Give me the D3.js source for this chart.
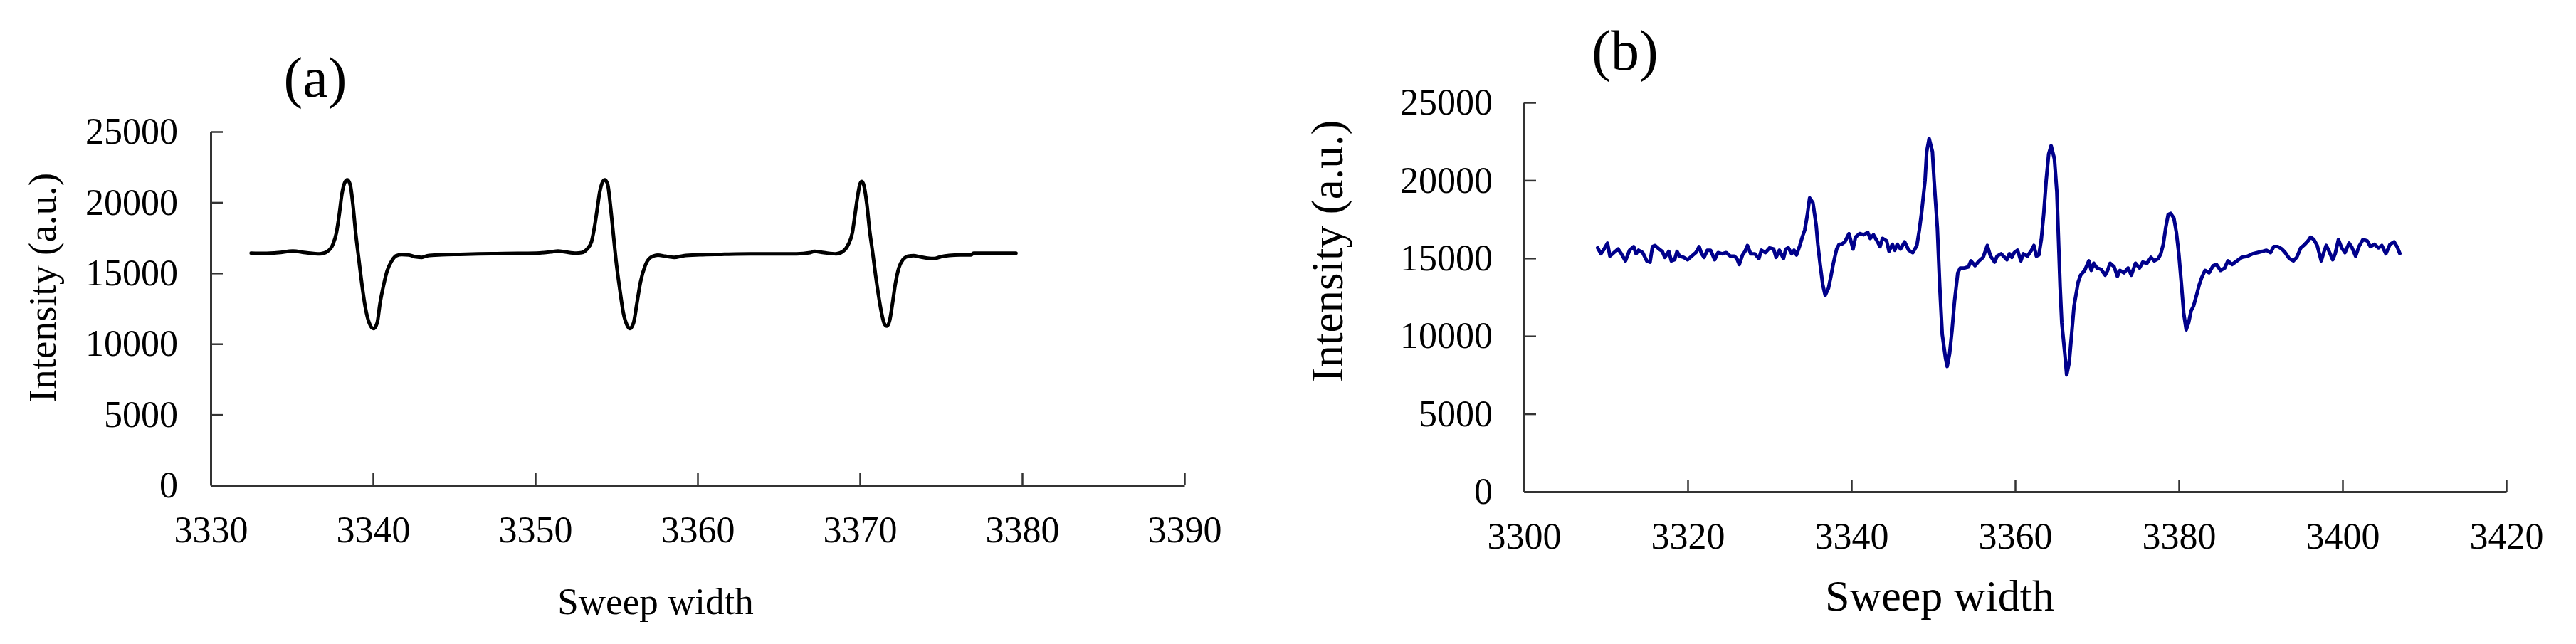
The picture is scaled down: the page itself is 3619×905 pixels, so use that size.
<!DOCTYPE html>
<html>
<head>
<meta charset="utf-8">
<script src="https://cdn.jsdelivr.net/npm/d3@7"></script>
<style>
  body { margin: 0; background: #fff; }
  svg { display: block; }
  text { font-family: "Liberation Serif", "Times New Roman", serif; fill: #000; }
</style>
</head>
<body>
<svg id="chart" width="3619" height="905"></svg>
<script>
// tick labels
const intensityTicks = [0, 5000, 10000, 15000, 20000, 25000];
const sweepTicksA = [3330, 3340, 3350, 3360, 3370, 3380, 3390];
const sweepTicksB = [3300, 3320, 3340, 3360, 3380, 3400, 3420];

// panel (a): simulated spectrum, three lines
const sweepA = [
  3332.49, 3333.27, 3334.17, 3335.06, 3335.85, 3336.74, 3337.19, 3337.53, 3337.75, 3337.93,
  3338.08, 3338.26, 3338.42, 3338.60, 3338.76, 3338.93, 3339.14, 3339.32, 3339.54, 3339.76,
  3340.03, 3340.26, 3340.43, 3340.66, 3340.88, 3341.15, 3341.44, 3341.78, 3342.22, 3342.67,
  3343.01, 3343.34, 3344.24, 3345.36, 3346.48, 3347.60, 3348.94, 3350.28, 3350.95, 3351.40,
  3351.85, 3352.52, 3352.86, 3353.19, 3353.46, 3353.64, 3353.82, 3353.97, 3354.13, 3354.29,
  3354.47, 3354.62, 3354.80, 3354.98, 3355.21, 3355.43, 3355.65, 3355.83, 3356.06, 3356.26,
  3356.48, 3356.77, 3357.11, 3357.56, 3358.00, 3358.56, 3359.12, 3360.13, 3361.47, 3363.26,
  3365.26, 3366.10, 3366.94, 3367.19, 3367.78, 3368.53, 3368.95, 3369.29, 3369.54, 3369.71,
  3369.88, 3370.01, 3370.13, 3370.26, 3370.43, 3370.60, 3370.80, 3370.97, 3371.14, 3371.34,
  3371.51, 3371.67, 3371.84, 3372.01, 3372.18, 3372.40, 3372.65, 3372.98, 3373.32, 3373.66,
  3374.16, 3374.58, 3375.00, 3375.50, 3376.17, 3376.85, 3377.01, 3377.85, 3379.62
];
const intensityA = [
  16412, 16395, 16446, 16563, 16446, 16362, 16529, 17032, 17871, 19212,
  20554, 21393, 21594, 21225, 19884, 17871, 15859, 14182, 12505, 11498,
  11079, 11498, 12840, 14182, 15188, 15859, 16227, 16311, 16278, 16143,
  16110, 16227, 16294, 16328, 16362, 16379, 16395, 16429, 16496, 16563,
  16496, 16412, 16446, 16697, 17200, 18206, 19548, 20722, 21393, 21594,
  21225, 19884, 17871, 15859, 13846, 12169, 11331, 11079, 11498, 12840,
  14350, 15523, 16110, 16278, 16194, 16110, 16227, 16294, 16328, 16362,
  16363, 16363, 16447, 16531, 16447, 16363, 16531, 17034, 17872, 19214,
  20556, 21310, 21478, 21142, 19885, 18040, 16363, 14854, 13512, 12171,
  11416, 11249, 11668, 12841, 14183, 15357, 15944, 16195, 16229, 16162,
  16061, 16028, 16162, 16246, 16279, 16279, 16413, 16413, 16413
];

// panel (b): measured spectrum, four lines
const sweepB = [
  3309.0, 3309.4, 3309.7, 3310.2, 3310.5, 3311.0, 3311.5, 3311.9, 3312.4, 3312.9,
  3313.4, 3313.7, 3314.0, 3314.5, 3315.0, 3315.4, 3315.7, 3316.0, 3316.5, 3316.9,
  3317.2, 3317.7, 3318.0, 3318.4, 3318.7, 3319.0, 3319.5, 3320.0, 3320.5, 3321.0,
  3321.4, 3321.7, 3322.0, 3322.4, 3322.8, 3323.3, 3323.7, 3324.2, 3324.7, 3325.2,
  3325.7, 3326.0, 3326.3, 3326.7, 3327.0, 3327.3, 3327.7, 3328.2, 3328.7, 3329.0,
  3329.5, 3330.0, 3330.5, 3330.8, 3331.2, 3331.7, 3332.0, 3332.3, 3332.7, 3333.0,
  3333.3, 3333.7, 3334.0, 3334.3, 3334.6, 3334.9, 3335.3, 3335.7, 3335.9, 3336.2,
  3336.5, 3336.8, 3337.2, 3337.5, 3337.8, 3338.2, 3338.5, 3338.8, 3339.2, 3339.7,
  3340.2, 3340.5, 3341.0, 3341.5, 3342.0, 3342.3, 3342.7, 3343.2, 3343.5, 3343.8,
  3344.3, 3344.6, 3345.0, 3345.3, 3345.6, 3346.0, 3346.5, 3347.0, 3347.5, 3348.0,
  3348.3, 3348.6, 3349.0, 3349.2, 3349.5, 3349.9, 3350.1, 3350.5, 3350.8, 3351.1,
  3351.5, 3351.7, 3352.0, 3352.3, 3352.6, 3353.0, 3353.3, 3353.8, 3354.3, 3354.6,
  3355.1, 3355.6, 3356.1, 3356.6, 3357.0, 3357.5, 3357.8, 3358.3, 3359.0, 3359.3,
  3359.6, 3359.9, 3360.3, 3360.7, 3361.0, 3361.5, 3362.0, 3362.3, 3362.6, 3362.9,
  3363.2, 3363.5, 3363.8, 3364.1, 3364.4, 3364.8, 3365.1, 3365.3, 3365.5, 3365.7,
  3366.1, 3366.3, 3366.6, 3366.9, 3367.2, 3367.7, 3368.0, 3368.5, 3369.0, 3369.3,
  3369.6, 3370.0, 3370.5, 3371.0, 3371.3, 3371.6, 3372.1, 3372.5, 3372.8, 3373.3,
  3373.8, 3374.2, 3374.7, 3375.2, 3375.6, 3376.1, 3376.6, 3377.0, 3377.5, 3377.8,
  3378.1, 3378.4, 3378.7, 3379.0, 3379.4, 3379.7, 3380.0, 3380.3, 3380.6, 3380.9,
  3381.2, 3381.5, 3381.8, 3382.2, 3382.5, 3382.8, 3383.2, 3383.7, 3384.2, 3384.6,
  3385.1, 3385.6, 3386.0, 3386.5, 3387.1, 3387.7, 3388.4, 3389.0, 3389.6, 3390.2,
  3390.7, 3391.2, 3391.6, 3392.1, 3392.6, 3393.0, 3393.5, 3394.0, 3394.4, 3394.9,
  3395.4, 3395.8, 3396.1, 3396.5, 3396.9, 3397.4, 3397.7, 3398.0, 3398.3, 3398.8,
  3399.1, 3399.5, 3399.9, 3400.3, 3400.8, 3401.1, 3401.6, 3402.0, 3402.5, 3403.0,
  3403.4, 3403.9, 3404.4, 3404.8, 3405.3, 3405.8, 3406.3, 3406.7, 3407.0
];
const intensityB = [
  15663, 15282, 15510, 15968, 15130, 15358, 15587, 15282, 14825, 15510,
  15740, 15282, 15510, 15358, 14825, 14748, 15740, 15816, 15587, 15435,
  15053, 15435, 14825, 14901, 15435, 15130, 15053, 14901, 15130, 15358,
  15740, 15282, 15053, 15510, 15510, 14901, 15358, 15282, 15358, 15130,
  15130, 14977, 14596, 15206, 15435, 15816, 15282, 15282, 14977, 15510,
  15358, 15663, 15587, 15053, 15510, 14977, 15587, 15663, 15282, 15510,
  15206, 15816, 16350, 16807, 17722, 18866, 18561, 17112, 15892, 14520,
  13300, 12613, 13071, 13833, 14672, 15587, 15892, 15892, 16045, 16578,
  15587, 16350, 16578, 16502, 16655, 16273, 16502, 16045, 15740, 16273,
  16120, 15435, 15892, 15510, 15892, 15587, 16045, 15510, 15358, 15816,
  16807, 18027, 20010, 21840, 22678, 21840, 20010, 16960, 13147, 10097,
  8572, 8038, 8877, 10402, 12232, 14062, 14367, 14367, 14443, 14825,
  14520, 14825, 15053, 15816, 15130, 14748, 15130, 15282, 14901, 15282,
  15053, 15358, 15510, 14825, 15282, 15130, 15510, 15816, 15130, 15206,
  16197, 17875, 20010, 21687, 22221, 21382, 19247, 16197, 13147, 10860,
  8725, 7504, 8267, 10097, 11927, 13452, 13910, 14214, 14825, 14214,
  14672, 14367, 14291, 13910, 14214, 14672, 14443, 13833, 14214, 14062,
  14367, 13910, 14672, 14367, 14748, 14672, 15053, 14825, 14977, 15282,
  15892, 16960, 17798, 17875, 17570, 16655, 15282, 13452, 11470, 10402,
  10860, 11622, 11927, 12690, 13300, 13757, 14214, 14062, 14520, 14596,
  14214, 14367, 14825, 14596, 14825, 15053, 15130, 15282, 15358, 15435,
  15510, 15358, 15740, 15740, 15587, 15358, 14977, 14825, 15053, 15663,
  15892, 16120, 16350, 16197, 15816, 14825, 15358, 15816, 15510, 14901,
  15282, 16197, 15663, 15358, 15968, 15740, 15130, 15740, 16197, 16120,
  15740, 15892, 15663, 15816, 15282, 15892, 16050, 15700, 15300
];

const svg = d3.select("#chart");
svg.append("rect").attr("width", 3619).attr("height", 905).attr("fill", "#fff");

function drawPanel(p) {
  const x = d3.scaleLinear().domain(p.xDomain).range([p.left, p.right]);
  const y = d3.scaleLinear().domain([0, 25000]).range([p.bottom, p.top]);
  const g = svg.append("g");

  const xAxis = g.append("g")
    .attr("transform", `translate(0,${p.bottom})`)
    .call(d3.axisBottom(x).tickValues(p.xTicks).tickFormat(d3.format("d"))
      .tickSizeInner(-17).tickSizeOuter(0).tickPadding(43));
  const yAxis = g.append("g")
    .attr("transform", `translate(${p.left},0)`)
    .call(d3.axisLeft(y).tickValues(intensityTicks).tickFormat(d3.format("d"))
      .tickSizeInner(-17).tickSizeOuter(0).tickPadding(p.yPad));

  [xAxis, yAxis].forEach(a => {
    a.select(".domain").attr("stroke", "#333").attr("stroke-width", 3);
    a.selectAll(".tick line").attr("stroke", "#333").attr("stroke-width", 2.5);
    a.selectAll(".tick text").attr("font-size", 52).attr("fill", "#000");
  });

  const pts = p.sweep.map((s, i) => [s, p.intensity[i]]);
  g.append("path")
    .datum(pts)
    .attr("fill", "none")
    .attr("stroke", p.color)
    .attr("stroke-width", p.lineWidth)
    .attr("stroke-linejoin", "round")
    .attr("stroke-linecap", "round")
    .attr("d", d3.line().x(d => x(d[0])).y(d => y(d[1])).curve(p.curve));

  g.append("text")
    .attr("transform", `translate(${p.yTitleX},${p.yTitleY}) rotate(-90)`)
    .attr("text-anchor", "middle")
    .attr("font-size", p.yTitleSize)
    .text("Intensity (a.u.)");

  g.append("text")
    .attr("x", p.xTitleX).attr("y", p.xTitleY)
    .attr("text-anchor", "middle")
    .attr("font-size", p.xTitleSize)
    .text("Sweep width");

  g.append("text")
    .attr("x", p.tagX).attr("y", p.tagY)
    .attr("text-anchor", "middle")
    .attr("font-size", 80)
    .text(p.tag);
}

drawPanel({
  xDomain: [3330, 3390], xTicks: sweepTicksA,
  left: 296, right: 1664, top: 185, bottom: 682, yPad: 46,
  sweep: sweepA, intensity: intensityA,
  color: "#000", lineWidth: 5, curve: d3.curveMonotoneX,
  yTitleX: 78, yTitleY: 404, yTitleSize: 55,
  xTitleX: 921, xTitleY: 863, xTitleSize: 53,
  tag: "(a)", tagX: 443, tagY: 136
});

drawPanel({
  xDomain: [3300, 3420], xTicks: sweepTicksB,
  left: 2141, right: 3521, top: 144, bottom: 691, yPad: 44,
  sweep: sweepB, intensity: intensityB,
  color: "#00008b", lineWidth: 5, curve: d3.curveLinear,
  yTitleX: 1886, yTitleY: 353, yTitleSize: 63,
  xTitleX: 2725, xTitleY: 858, xTitleSize: 62,
  tag: "(b)", tagX: 2283, tagY: 98
});
</script>
</body>
</html>
